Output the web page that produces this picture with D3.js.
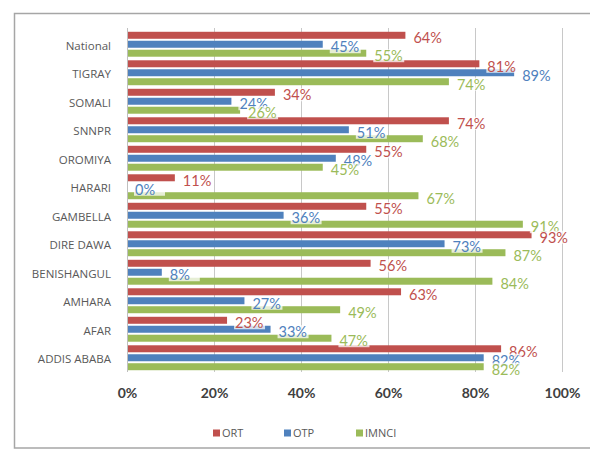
<!DOCTYPE html>
<html>
<head>
<meta charset="utf-8">
<script src="https://cdn.jsdelivr.net/npm/d3@7/dist/d3.min.js"></script>
<style>
  html, body { margin: 0; padding: 0; background: #fff; }
  svg { display: block; font-family: Lato, "Open Sans", sans-serif; }
</style>
</head>
<body>
<svg id="chart" width="590" height="450"></svg>
<script>
const categories = ["National", "TIGRAY", "SOMALI", "SNNPR", "OROMIYA", "HARARI", "GAMBELLA", "DIRE DAWA", "BENISHANGUL", "AMHARA", "AFAR", "ADDIS ABABA"];
const seriesNames = ["ORT", "OTP", "IMNCI"];
const ortValues   = [64, 81, 34, 74, 55, 11, 55, 93, 56, 63, 23, 86];
const otpValues   = [45, 89, 24, 51, 48, 0, 36, 73, 8, 27, 33, 82];
const imnciValues = [55, 74, 26, 68, 45, 67, 91, 87, 84, 49, 47, 82];
const tickValues  = [0, 20, 40, 60, 80, 100];
const colors = ["#C0504D", "#4F81BD", "#9BBB59"];

const seriesValues = [ortValues, otpValues, imnciValues];
const svg = d3.select("#chart");

// frame
svg.append("rect").attr("x", 14.5).attr("y", 13.5).attr("width", 600).attr("height", 434.5)
  .attr("fill", "#fff").attr("stroke", "#a6a6a6").attr("stroke-width", 1.5);

const x = d3.scaleLinear().domain([0, 100]).range([127, 562]);
const y = d3.scaleBand().domain(categories).range([30, 372]).paddingInner(0.1).paddingOuter(0.05);
const ySub = d3.scaleBand().domain(seriesNames).range([0, y.bandwidth()]).paddingInner(0.22).paddingOuter(0.04);

// gridlines
svg.append("g").selectAll("line").data(tickValues).join("line")
  .attr("x1", d => x(d) + 0.5).attr("x2", d => x(d) + 0.5)
  .attr("y1", 28).attr("y2", 372)
  .attr("stroke", d => d === 0 ? "#bfbfbf" : "#c8c8c8").attr("stroke-width", 1);

// x axis tick labels
const xAxis = d3.axisBottom(x).tickValues(tickValues).tickFormat(d => d + "%").tickSize(0).tickPadding(0);
const gx = svg.append("g").attr("transform", "translate(0,388)").call(xAxis);
gx.select(".domain").remove();
gx.selectAll("text").attr("font-family", "Lato, sans-serif").attr("font-size", 14).attr("font-weight", "bold").attr("fill", "#404040");

// y axis labels
const yAxis = d3.axisLeft(y).tickSize(0).tickPadding(0);
const gy = svg.append("g").attr("transform", "translate(111,2)").call(yAxis);
gy.select(".domain").remove();
gy.selectAll("text").attr("font-family", "'Open Sans', sans-serif").attr("font-size", 11.5).attr("fill", "#595959");

// bars
const data = [];
categories.forEach((c, i) => seriesNames.forEach((s, j) => data.push({ c, s, j, v: seriesValues[j][i] })));

svg.append("g").selectAll("rect").data(data).join("rect")
  .attr("x", x(0) + 1)
  .attr("y", d => y(d.c) + ySub(d.s))
  .attr("width", d => Math.max(0, x(d.v) - x(0) - 1))
  .attr("height", ySub.bandwidth())
  .attr("fill", d => colors[d.j]);

// labels
const labels = svg.append("g").selectAll("g").data(data).join("g")
  .attr("transform", d => `translate(${x(d.v) + 8},${y(d.c) + ySub(d.s) + ySub.bandwidth() / 2 + 3})`);
labels.append("rect").attr("x", -1).attr("y", -7).attr("width", 31).attr("height", 13).attr("fill", "#fff").attr("opacity", 0.75);
labels.append("text").text(d => d.v + "%")
  .attr("dy", "0.35em").attr("font-size", 14.5).attr("fill", d => colors[d.j]);

// legend
const legendX = [213, 284, 356];
const lg = svg.append("g").selectAll("g").data(seriesNames).join("g")
  .attr("transform", (d, i) => `translate(${legendX[i]},433)`);
lg.append("rect").attr("x", 0).attr("y", -3.5).attr("width", 7).attr("height", 7).attr("fill", (d, i) => colors[i]);
lg.append("text").attr("x", 9).attr("dy", "0.35em").text(d => d)
  .attr("font-family", "'Open Sans', sans-serif").attr("font-size", 11).attr("fill", "#595959");
</script>
</body>
</html>
